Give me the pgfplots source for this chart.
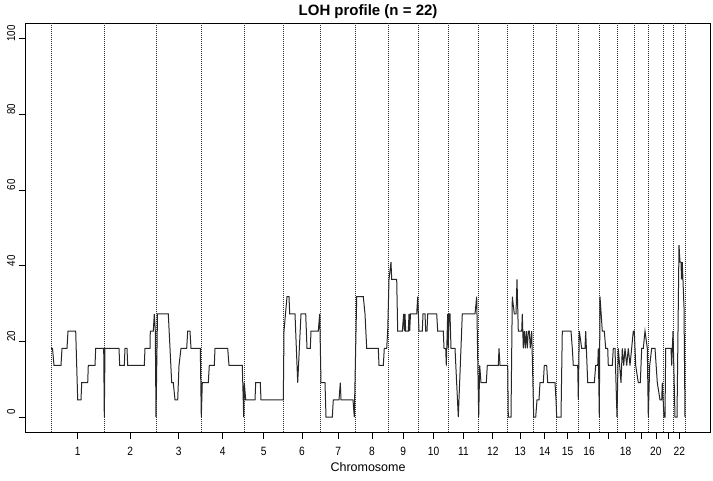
\documentclass[border=0pt]{standalone}
\usepackage{fontspec}
\setmainfont{Liberation Sans}
\usepackage{pgfplots}
\pgfplotsset{compat=1.18}

% x positions are in reference-pixel units; chromosome boundaries and centres below
\pgfplotstableread{
x y
51 18.18
52.5 18.18
54 13.64
61 13.64
62 18.18
67 18.18
68 22.73
75.7 22.73
77.7 4.55
81 4.55
81.7 9.09
87.7 9.09
88.3 13.64
95 13.64
95.7 18.18
103.7 18.18
104.3 0
105 18.18
119 18.18
119.7 13.64
124.3 13.64
125 18.18
127 18.18
127.7 13.64
144.3 13.64
145 18.18
150 18.18
150.3 22.73
153.3 22.73
154.3 27.27
155.3 22.73
156 0
157.5 27.27
168.3 27.27
171.7 9.09
173.3 9.09
175 4.55
177.7 4.55
179 13.64
181 18.18
186.7 18.18
187.7 22.73
190 22.73
191 18.18
200.3 18.18
201.3 0
202.3 9.09
208.3 9.09
209.3 13.64
214.3 13.64
215 18.18
227.7 18.18
229 13.64
242.3 13.64
243.7 0
244.3 9.09
245.7 4.55
255 4.55
255.7 9.09
260.3 9.09
261 4.55
283.3 4.55
284 22.73
287 31.82
289 31.82
289.7 27.27
295 27.27
297.7 9.09
301 27.27
305.7 27.27
307 18.18
310.3 18.18
311 22.73
318.3 22.73
319.7 27.27
321 9.09
325 9.09
326 0
332.3 0
333.3 4.55
339 4.55
340.3 9.09
341 4.55
353 4.55
354.3 0
356.7 31.82
363.3 31.82
365 27.27
366.7 18.18
378.3 18.18
379 13.64
383.3 13.64
384.3 18.18
386.7 18.18
387.7 22.73
389 36.36
391 40.91
391.7 36.36
396.7 36.36
397.7 22.73
402.3 22.73
403.7 27.27
404.3 22.73
405 27.27
405.7 22.73
408.3 22.73
409 27.27
409.7 22.73
410.5 27.27
416.7 27.27
417.7 31.82
419 22.73
422.3 22.73
423 27.27
425 27.27
425.7 22.73
427 22.73
427.7 27.27
436.7 27.27
437.7 22.73
443.3 22.73
444 18.18
445.7 18.18
446.3 13.64
447.7 27.27
448.3 18.18
449 27.27
450 27.27
451 18.18
455 18.18
458.3 0
462.3 27.27
475 27.27
476.7 31.82
478.7 0
479.7 13.64
481 9.09
486.3 9.09
487.3 13.64
498.3 13.64
499 18.18
500 13.64
507.7 13.64
508.3 0
511 0
512.3 31.82
514.3 27.27
516 27.27
517 36.36
518.3 22.73
521.7 22.73
522.3 27.27
523.3 18.18
524.3 22.73
525.3 18.18
526.3 22.73
527.3 18.18
528.3 22.73
529.3 22.73
530.3 18.18
531.7 22.73
533.7 0
535.7 0
537 4.55
539 4.55
540 9.09
543.3 9.09
544.3 13.64
546.7 13.64
547.7 9.09
555 9.09
556 4.55
556.7 0
561 0
562.3 22.73
571 22.73
572.3 18.18
573.3 13.64
577.7 13.64
578.3 4.55
579.3 22.73
581.7 18.18
585 18.18
585.7 22.73
587.7 9.09
594.3 9.09
595.7 13.64
597.7 13.64
598.3 18.18
599.3 0
600 31.82
602.3 22.73
604.3 22.73
605.7 18.18
607.7 18.18
608.3 13.64
612.3 13.64
613.3 18.18
615 18.18
617 0
618.3 18.18
621 9.09
622.3 18.18
623.7 13.64
625 18.18
626.7 13.64
628.3 18.18
630 13.64
633.3 22.73
634.3 22.73
635.7 13.64
638.3 9.09
640.3 9.09
641.7 18.18
643.3 18.18
645 22.73
647.3 18.18
648.3 0
649.7 13.64
651.7 18.18
655 18.18
657.3 9.09
660 4.55
661.7 4.55
662.3 9.09
664 0
665 0
665.7 18.18
671 18.18
671.7 13.64
673 22.73
675 0
677 0
679 45.45
680 40.91
681 40.91
681.5 36.36
682.3 40.91
684 29
685 0
}\loh

\begin{document}
\begin{tikzpicture}
\useasboundingbox (-25.7pt,-47.7pt) rectangle (687.3pt,432.3pt);
\begin{axis}[
    at={(0pt,0pt)}, anchor=south west,
    scale only axis,
    width=684.7pt, height=409pt,
    xmin=25.7, xmax=710.4,
    ymin=-4, ymax=104,
    axis line style={line width=0.8pt},
    tick align=outside,
    tick pos=left,
    major tick length=7pt,
    every tick/.style={black, line width=0.8pt},
    ytick={0,20,40,60,80,100},
    yticklabel style={rotate=90, xscale=0.85, anchor=south, xshift=6pt,
        font=\fontsize{11.5}{12}\selectfont},
    xtick={77.7,130.2,178.7,222.7,263.7,302,338.2,371.9,403.2,433.5,463.5,492.8,520.2,544.7,567.5,589,608.2,625.5,641.4,655.9,668.4,679.4},
    xticklabels={1,2,3,4,5,6,7,8,9,10,11,12,13,14,15,16,,18,,20,,22},
    xticklabel style={font=\fontsize{12}{13}\selectfont, xscale=0.85, yshift=-4pt},
    extra x ticks={51,104.3,156,201.3,244,283.3,320.7,355.7,388,418.3,448.7,478.3,507.3,533,556.3,578.7,599.3,617,634,648.7,663,673.7,685},
    extra x tick labels={},
    extra x tick style={grid=major, major tick length=0pt,
        major grid style={black!80, line width=0.5pt, dash pattern=on 1pt off 1pt}},
    /pgf/number format/assume math mode=true,
    title={LOH profile (n = 22)},
    every axis title shift=0pt,
    title style={font=\bfseries\fontsize{15}{17}\selectfont, at={(0.5,1)}, anchor=south, yshift=1.5pt},
    xlabel={Chromosome},
    xlabel style={font=\fontsize{12.5}{14}\selectfont, at={(0.5,0)}, anchor=north, yshift=-27pt},
  ]
  \addplot[black!85, line width=1pt, mark=none] table[x=x, y=y] {\loh};
\end{axis}
\end{tikzpicture}
\end{document}
